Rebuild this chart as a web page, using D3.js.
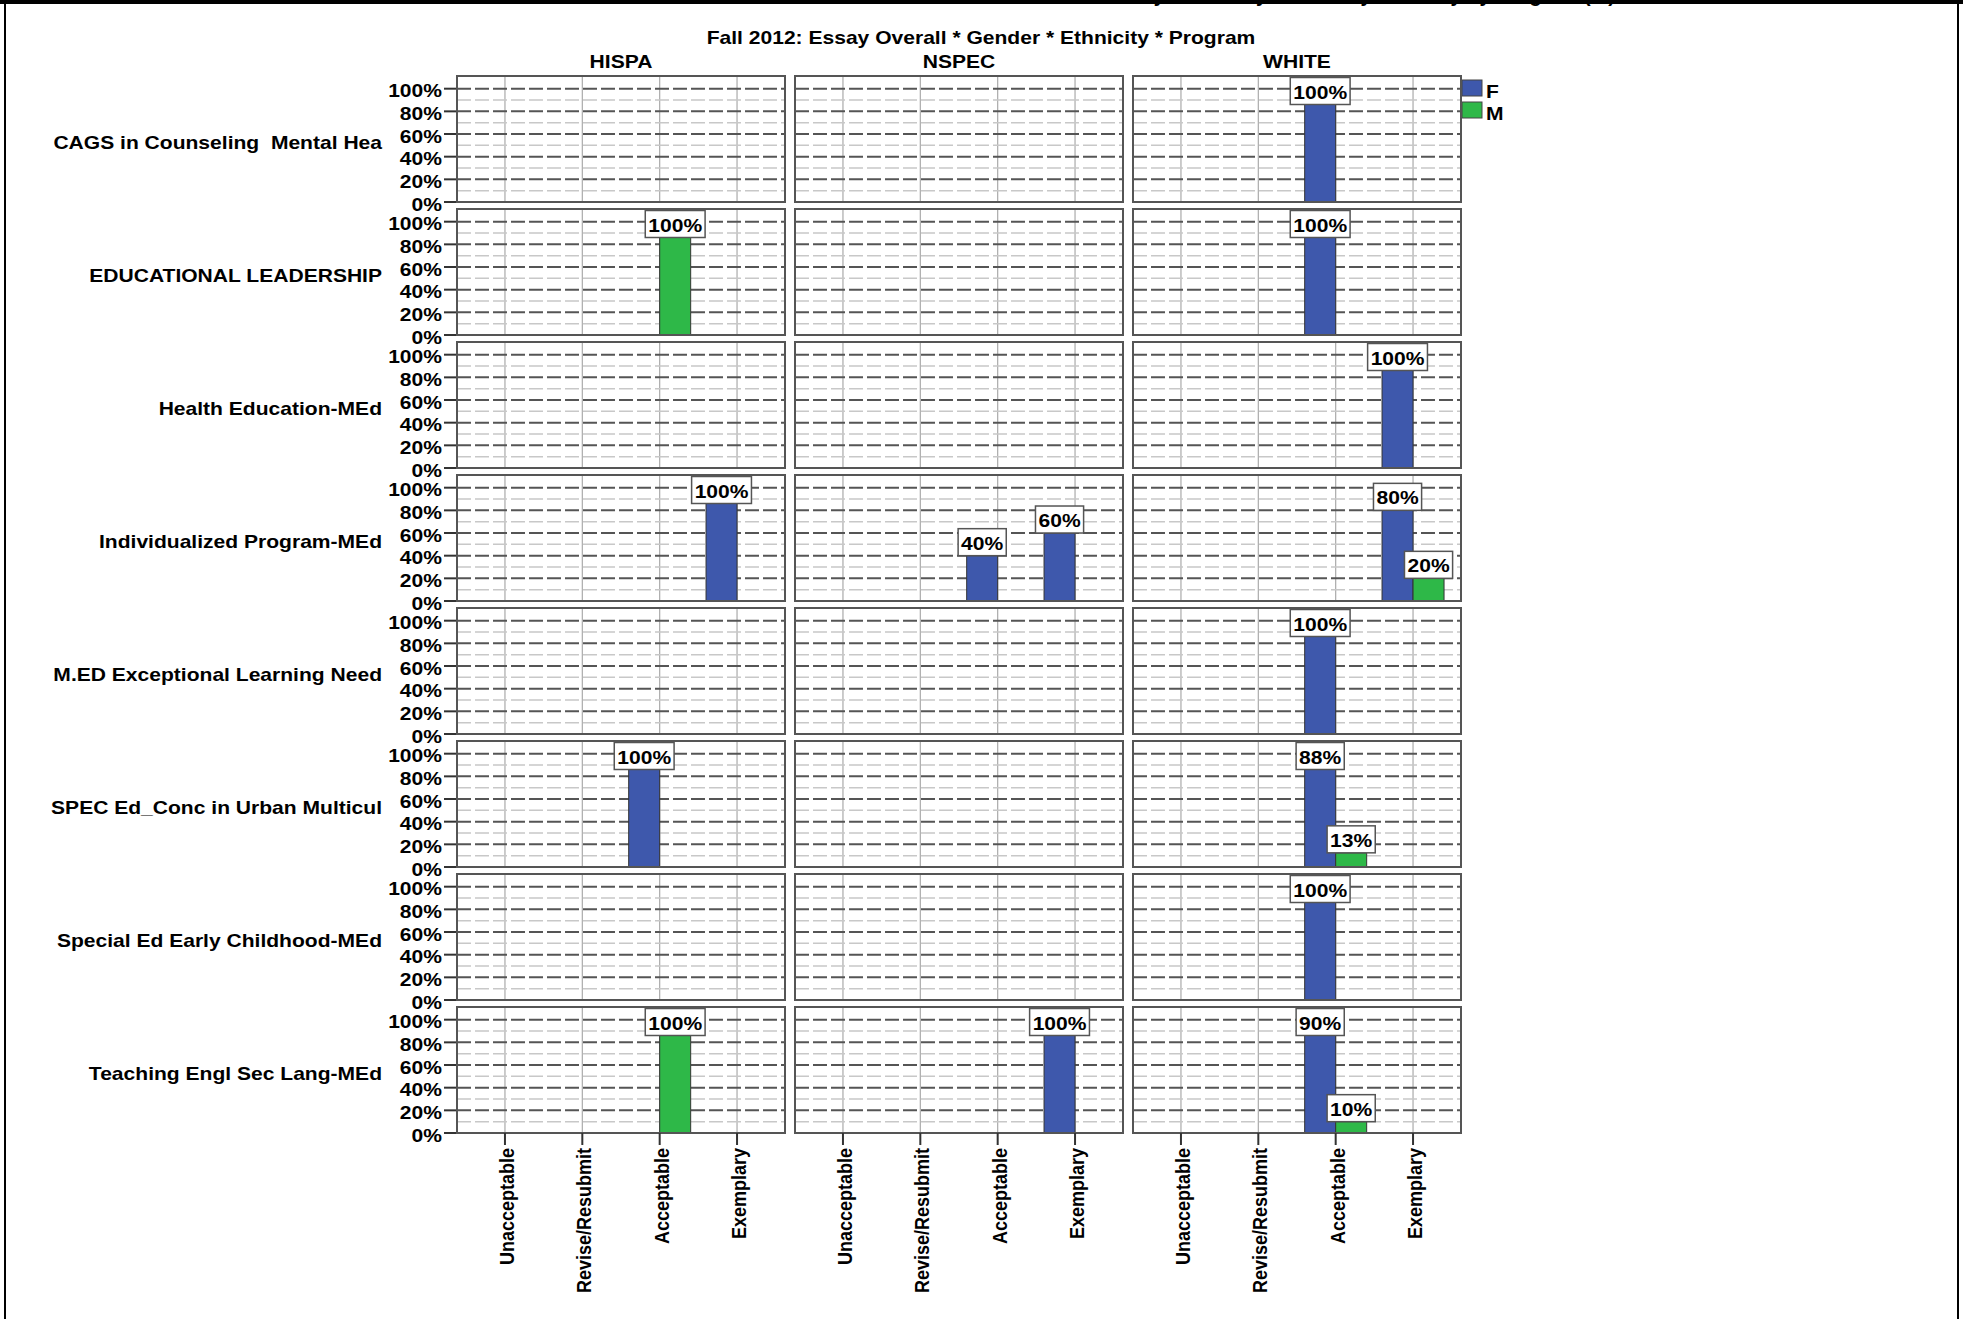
<!DOCTYPE html>
<html>
<head>
<meta charset="utf-8">
<script src="https://cdn.jsdelivr.net/npm/d3@7"></script>
<style>
  body { margin: 0; background: #fff; }
  text { font-family: "Liberation Sans", Arial, sans-serif; white-space: pre; }
</style>
</head>
<body>
<div id="chart"></div>
<script>
// panel rows, columns and bar categories
const programs = [
  "CAGS in Counseling  Mental Hea",
  "EDUCATIONAL LEADERSHIP",
  "Health Education-MEd",
  "Individualized Program-MEd",
  "M.ED Exceptional Learning Need",
  "SPEC Ed_Conc in Urban Multicul",
  "Special Ed Early Childhood-MEd",
  "Teaching Engl Sec Lang-MEd"
];
const ethnicities = ["HISPA", "NSPEC", "WHITE"];
const ratings = ["Unacceptable", "Revise/Resubmit", "Acceptable", "Exemplary"];
const genders = ["F", "M"];
const yTicks = [0, 20, 40, 60, 80, 100];
const yMinor = [10, 30, 50, 70, 90];

// bars: [program index, ethnicity, rating, percent]
const femaleBars = [
  [0, "WHITE", "Acceptable", 100],
  [1, "WHITE", "Acceptable", 100],
  [2, "WHITE", "Exemplary", 100],
  [3, "HISPA", "Exemplary", 100],
  [3, "NSPEC", "Acceptable", 40],
  [3, "NSPEC", "Exemplary", 60],
  [3, "WHITE", "Exemplary", 80],
  [4, "WHITE", "Acceptable", 100],
  [5, "HISPA", "Acceptable", 100],
  [5, "WHITE", "Acceptable", 87.5],
  [6, "WHITE", "Acceptable", 100],
  [7, "NSPEC", "Exemplary", 100],
  [7, "WHITE", "Acceptable", 90]
];
const maleBars = [
  [1, "HISPA", "Acceptable", 100],
  [3, "WHITE", "Exemplary", 20],
  [5, "WHITE", "Acceptable", 12.5],
  [7, "HISPA", "Acceptable", 100],
  [7, "WHITE", "Acceptable", 10]
];

const title = "Fall 2012: Essay Overall * Gender * Ethnicity * Program";
const colors = {F: "#3e58ac", M: "#2eb848"};

// layout
const W = 1963, H = 1319;
const panelLeft = 457, panelTop = 76;
const panelW = 328, panelH = 126;
const colStep = 338, rowStep = 133;
const sx = 1.17; // text in the picture is stretched horizontally

const svg = d3.select("#chart")
  .append("svg")
    .attr("width", W)
    .attr("height", H);

function addText(g, x, y, str, anchor, size, weight, rotate) {
  const t = g.append("text")
    .attr("transform", `translate(${x},${y}) scale(${sx},1)` + (rotate ? " rotate(-90)" : ""))
    .attr("text-anchor", anchor)
    .attr("dy", "0.42em")
    .attr("font-size", size + "px")
    .attr("font-weight", weight)
    .attr("fill", "#000")
    .text(str);
  return t;
}

// outer frame and the cut off page title above it
svg.append("text")
  .attr("x", 1615).attr("y", 2)
  .attr("text-anchor", "end")
  .attr("font-size", "20px")
  .attr("font-weight", "bold")
  .text("Essay Overall by Gender by Ethnicity by Program (%)");
svg.append("path")
  .attr("d", `M5,${H} V3 H1958 V${H}`)
  .attr("fill", "none")
  .attr("stroke", "#000")
  .attr("stroke-width", 2);
svg.append("line")
  .attr("x1", 0).attr("x2", W).attr("y1", 2).attr("y2", 2)
  .attr("stroke", "#000").attr("stroke-width", 4);

// scales
const x = d3.scalePoint()
  .domain(ratings)
  .range([0, panelW])
  .padding(0.62);
const xg = d3.scaleBand()
  .domain(genders)
  .range([-31, 31]);
const y = d3.scaleLinear()
  .domain([0, 111.2])
  .range([panelH, 0]);

// title and column headers
addText(svg, 981, 36, title, "middle", 18, "bold");
ethnicities.forEach((e, c) => {
  addText(svg, panelLeft + c * colStep + panelW / 2, 60, e, "middle", 18, "bold");
});

// legend
genders.forEach((gname, i) => {
  svg.append("rect")
    .attr("x", 1462).attr("y", 80 + i * 22)
    .attr("width", 20).attr("height", 16)
    .attr("fill", colors[gname])
    .attr("stroke", "#444").attr("stroke-width", 1);
  addText(svg, 1486, 90 + i * 22, gname, "start", 18, "bold");
});

const allBars = femaleBars.map(d => ({p: d[0], e: d[1], r: d[2], v: d[3], g: "F"}))
  .concat(maleBars.map(d => ({p: d[0], e: d[1], r: d[2], v: d[3], g: "M"})));

programs.forEach((prog, r) => {
  const py = panelTop + r * rowStep;

  // row label
  addText(svg, 382, py + panelH / 2 + 2, prog, "end", 18, "bold");

  // y axis on the first column
  const ax = svg.append("g").attr("transform", `translate(${panelLeft},${py})`);
  yTicks.forEach(t => {
    ax.append("line")
      .attr("x1", -13).attr("x2", 0)
      .attr("y1", y(t)).attr("y2", y(t))
      .attr("stroke", "#333").attr("stroke-width", 2);
    addText(ax, -15, y(t) + 1, t + "%", "end", 18, "bold");
  });

  ethnicities.forEach((eth, c) => {
    const g = svg.append("g")
      .attr("transform", `translate(${panelLeft + c * colStep},${py})`);

    // vertical grid
    g.selectAll(".vgrid")
      .data(ratings)
      .enter().append("line")
        .attr("x1", d => x(d)).attr("x2", d => x(d))
        .attr("y1", 0).attr("y2", panelH)
        .attr("stroke", "#aaa").attr("stroke-width", 1.2);

    // minor and major dashed grid
    g.selectAll(".minor")
      .data(yMinor)
      .enter().append("line")
        .attr("x1", 0).attr("x2", panelW)
        .attr("y1", d => y(d)).attr("y2", d => y(d))
        .attr("stroke", "#c8c8c8").attr("stroke-width", 1.5)
        .attr("stroke-dasharray", "14,4");
    g.selectAll(".major")
      .data(yTicks.slice(1))
      .enter().append("line")
        .attr("x1", 0).attr("x2", panelW)
        .attr("y1", d => y(d)).attr("y2", d => y(d))
        .attr("stroke", "#555").attr("stroke-width", 2)
        .attr("stroke-dasharray", "14,4");

    const bars = allBars.filter(d => d.p === r && d.e === eth);

    g.selectAll(".bar")
      .data(bars)
      .enter().append("rect")
        .attr("x", d => x(d.r) + xg(d.g))
        .attr("y", d => y(d.v))
        .attr("width", xg.bandwidth())
        .attr("height", d => y(0) - y(d.v))
        .attr("fill", d => colors[d.g])
        .attr("stroke", "#333").attr("stroke-width", 1);

    // value labels in boxes
    bars.forEach(d => {
      const cx = x(d.r) + xg(d.g) + xg.bandwidth() / 2;
      const boxH = 27;
      const top = Math.max(y(d.v) - boxH, 1.5);
      const lg = g.append("g");
      const box = lg.append("rect");
      const t = addText(lg, cx, top + boxH / 2, d3.format(".0f")(d.v) + "%", "middle", 18, "bold");
      const tw = t.node().getComputedTextLength() * sx + 6;
      box.attr("x", cx - tw / 2).attr("y", top)
        .attr("width", tw).attr("height", boxH)
        .attr("fill", "#fff")
        .attr("stroke", "#555").attr("stroke-width", 1.5);
    });

    // panel border
    g.append("rect")
      .attr("width", panelW).attr("height", panelH)
      .attr("fill", "none")
      .attr("stroke", "#555").attr("stroke-width", 2);

    // x axis under the last row
    if (r === programs.length - 1) {
      ratings.forEach(rt => {
        g.append("line")
          .attr("x1", x(rt)).attr("x2", x(rt))
          .attr("y1", panelH).attr("y2", panelH + 12)
          .attr("stroke", "#333").attr("stroke-width", 2);
        addText(g, x(rt), panelH + 15, rt, "end", 18, "bold", true);
      });
    }
  });
});
</script>
</body>
</html>
